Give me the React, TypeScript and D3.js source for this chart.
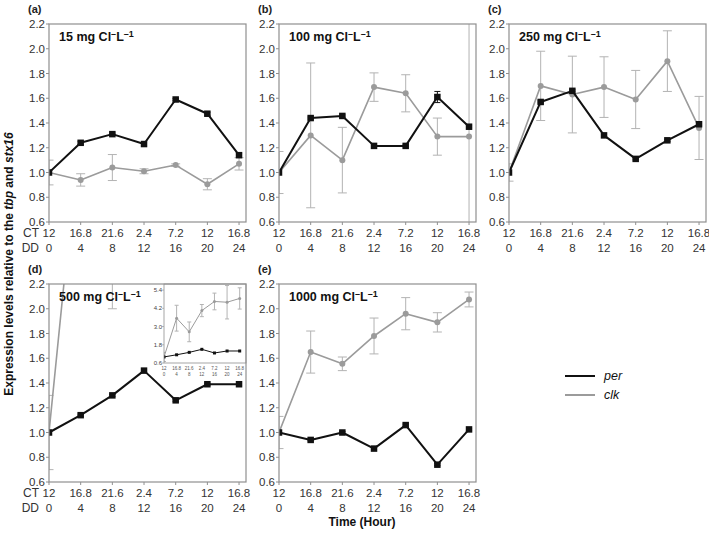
import React from "react";
import * as d3 from "d3";

const CT = ["12", "16.8", "21.6", "2.4", "7.2", "12", "16.8"];
const DD = ["0", "4", "8", "12", "16", "20", "24"];
const Y_TICKS = [0.6, 0.8, 1.0, 1.2, 1.4, 1.6, 1.8, 2.0, 2.2];
const INSET_Y_TICKS = [0.6, 1.8, 3.0, 4.2, 5.4];

const perA = [1.0, 1.24, 1.31, 1.23, 1.59, 1.475, 1.14];
const perAErr = [0.005, 0.012, 0.008, 0.012, 0.008, 0.012, 0.015];
const clkA = [1.0, 0.94, 1.04, 1.01, 1.06, 0.905, 1.07];
const clkAErr = [0.1, 0.05, 0.105, 0.02, 0.01, 0.045, 0.05];

const perB = [1.0, 1.44, 1.457, 1.215, 1.215, 1.61, 1.37];
const perBErr = [0.005, 0.008, 0.008, 0.008, 0.008, 0.045, 0.008];
const clkB = [1.0, 1.3, 1.1, 1.69, 1.64, 1.29, 1.29];
const clkBErr = [0.17, 0.585, 0.265, 0.115, 0.15, 0.15, 1.2];

const perC = [1.0, 1.57, 1.66, 1.3, 1.11, 1.26, 1.39];
const perCErr = [0.005, 0.008, 0.008, 0.008, 0.008, 0.008, 0.008];
const clkC = [1.0, 1.7, 1.63, 1.69, 1.59, 1.9, 1.36];
const clkCErr = [0.07, 0.28, 0.31, 0.245, 0.235, 0.245, 0.255];

const perD = [1.0, 1.14, 1.3, 1.5, 1.26, 1.39, 1.39];
const perDErr = [0.005, 0.008, 0.008, 0.008, 0.008, 0.008, 0.008];
const clkD = [1.0, 3.55, 2.65, 4.05, 4.65, 4.6, 4.85];
const clkDErr = [0.3, 0.85, 0.65, 0.4, 0.55, 1.1, 0.7];

const perE = [1.0, 0.94, 1.0, 0.87, 1.06, 0.74, 1.025];
const perEErr = [0.005, 0.008, 0.008, 0.008, 0.008, 0.008, 0.008];
const clkE = [1.0, 1.65, 1.555, 1.78, 1.96, 1.89, 2.075];
const clkEErr = [0.13, 0.17, 0.055, 0.145, 0.13, 0.078, 0.06];

const FONT = "'Liberation Sans', Arial, Helvetica, sans-serif";
const FRAME = "#8f8f8f";
const GRAY = "#9b9b9b";
const GRAY_ERR = "#b3b3b3";
const PW = 197;
const PH = 198;

type PanelProps = {
  id: string;
  x0: number;
  y0: number;
  letter: string;
  conc: string;
  per: number[];
  perErr: number[];
  clk: number[];
  clkErr: number[];
  rowLabels?: boolean;
  children?: React.ReactNode;
};

function Series({
  vals,
  errs,
  x,
  y,
  color,
  errColor,
  square,
  lw,
  ms,
  cap,
}: {
  vals: number[];
  errs: number[];
  x: (i: number) => number;
  y: d3.ScaleLinear<number, number>;
  color: string;
  errColor: string;
  square: boolean;
  lw: number;
  ms: number;
  cap: number;
}) {
  const line = d3
    .line<number>()
    .x((_, i) => x(i))
    .y((v) => y(v));
  return (
    <g>
      {vals.map((v, i) => (
        <g key={"e" + i} stroke={errColor} strokeWidth={1}>
          <line x1={x(i)} x2={x(i)} y1={y(v + errs[i])} y2={y(v - errs[i])} />
          <line x1={x(i) - cap} x2={x(i) + cap} y1={y(v + errs[i])} y2={y(v + errs[i])} />
          <line x1={x(i) - cap} x2={x(i) + cap} y1={y(v - errs[i])} y2={y(v - errs[i])} />
        </g>
      ))}
      <path d={line(vals) || ""} fill="none" stroke={color} strokeWidth={lw} strokeLinejoin="round" />
      {vals.map((v, i) =>
        square ? (
          <rect key={"m" + i} x={x(i) - ms / 2} y={y(v) - ms / 2} width={ms} height={ms} fill={color} />
        ) : (
          <circle key={"m" + i} cx={x(i)} cy={y(v)} r={ms / 2} fill={color} />
        )
      )}
    </g>
  );
}

function Panel(p: PanelProps) {
  const xs = d3.scaleLinear().domain([0, 6.22]).range([p.x0, p.x0 + PW]);
  const y = d3.scaleLinear().domain([0.6, 2.2]).range([p.y0 + PH, p.y0]);
  const x = (i: number) => xs(i);
  const bottom = p.y0 + PH;
  return (
    <g fontFamily={FONT}>
      <defs>
        <clipPath id={"clip" + p.id}>
          <rect x={p.x0} y={p.y0} width={PW} height={PH} />
        </clipPath>
      </defs>
      <text x={p.x0 - 21} y={p.y0 - 11} fontSize={11} fontWeight="bold" fill="#222">
        {p.letter}
      </text>
      {Y_TICKS.map((t) => (
        <g key={t}>
          <line x1={p.x0 - 3} x2={p.x0} y1={y(t)} y2={y(t)} stroke={FRAME} />
          <text x={p.x0 - 4} y={y(t)} dy="0.35em" textAnchor="end" fontSize={11.5} fill="#333">
            {t.toFixed(1)}
          </text>
        </g>
      ))}
      {CT.map((c, i) => (
        <g key={i}>
          <line x1={x(i)} x2={x(i)} y1={bottom} y2={bottom + 3} stroke={FRAME} />
          <text x={x(i)} y={bottom + 11} dy="0.35em" textAnchor="middle" fontSize={11.5} fill="#333">
            {c}
          </text>
          <text x={x(i)} y={bottom + 26} dy="0.35em" textAnchor="middle" fontSize={11.5} fill="#333">
            {DD[i]}
          </text>
        </g>
      ))}
      {p.rowLabels && (
        <g fontSize={12} fill="#333">
          <text x={p.x0 - 10} y={bottom + 11} dy="0.35em" textAnchor="end">
            CT
          </text>
          <text x={p.x0 - 10} y={bottom + 26} dy="0.35em" textAnchor="end">
            DD
          </text>
        </g>
      )}
      <g clipPath={`url(#clip${p.id})`}>
        <Series vals={p.clk} errs={p.clkErr} x={x} y={y} color={GRAY} errColor={GRAY_ERR} square={false} lw={1.6} ms={6} cap={4.5} />
        <Series vals={p.per} errs={p.perErr} x={x} y={y} color="#111" errColor="#111" square={true} lw={2} ms={6.5} cap={3} />
      </g>
      <text x={p.x0 + 10} y={p.y0 + 17} fontSize={12.5} fontWeight="bold" fill="#111">
        {p.conc} mg Cl
        <tspan dy={-4} fontSize={9}>
          –
        </tspan>
        <tspan dy={4}>L</tspan>
        <tspan dy={-4} fontSize={9}>
          –1
        </tspan>
      </text>
      {p.children}
      <rect x={p.x0} y={p.y0} width={PW} height={PH} fill="none" stroke={FRAME} strokeWidth={1.2} />
    </g>
  );
}

function Inset({ x0, y0 }: { x0: number; y0: number }) {
  const w = 82;
  const h = 79;
  const xs = d3.scaleLinear().domain([0, 6.5]).range([x0, x0 + w]);
  const y = d3.scaleLinear().domain([0.6, 5.8]).range([y0 + h, y0]);
  const x = (i: number) => xs(i);
  return (
    <g fontFamily={FONT}>
      <defs>
        <clipPath id="clipInset">
          <rect x={x0} y={y0} width={w} height={h} />
        </clipPath>
      </defs>
      <rect x={x0} y={y0} width={w} height={h} fill="#fff" />
      {INSET_Y_TICKS.map((t) => (
        <g key={t}>
          <line x1={x0 - 2} x2={x0} y1={y(t)} y2={y(t)} stroke={FRAME} strokeWidth={0.6} />
          <text x={x0 - 2} y={y(t)} dy="0.35em" textAnchor="end" fontSize={6} fill="#444">
            {t.toFixed(1)}
          </text>
        </g>
      ))}
      {CT.map((c, i) => (
        <g key={i} fontSize={4.5} fill="#555" textAnchor="middle">
          <text x={x(i)} y={y0 + h + 5} dy="0.35em">
            {c}
          </text>
          <text x={x(i)} y={y0 + h + 11} dy="0.35em">
            {DD[i]}
          </text>
        </g>
      ))}
      <g clipPath="url(#clipInset)">
        <Series vals={clkD} errs={clkDErr} x={x} y={y} color={GRAY} errColor={GRAY_ERR} square={false} lw={1} ms={3} cap={2} />
        <Series vals={perD} errs={perDErr} x={x} y={y} color="#111" errColor="#111" square={true} lw={1} ms={3} cap={1} />
      </g>
      <rect x={x0} y={y0} width={w} height={h} fill="none" stroke={FRAME} strokeWidth={0.8} />
    </g>
  );
}

export default function App() {
  return (
    <svg width={709} height={537} style={{ position: "absolute", left: 0, top: 0 }}>
      <rect width={709} height={537} fill="#fff" />
      <Panel id="a" x0={49} y0={24} letter="(a)" conc="15" per={perA} perErr={perAErr} clk={clkA} clkErr={clkAErr} rowLabels />
      <Panel id="b" x0={279} y0={24} letter="(b)" conc="100" per={perB} perErr={perBErr} clk={clkB} clkErr={clkBErr} />
      <Panel id="c" x0={509} y0={24} letter="(c)" conc="250" per={perC} perErr={perCErr} clk={clkC} clkErr={clkCErr} />
      <Panel id="d" x0={49} y0={284} letter="(d)" conc="500" per={perD} perErr={perDErr} clk={clkD} clkErr={clkDErr} rowLabels>
        <Inset x0={164} y0={284} />
      </Panel>
      <Panel id="e" x0={279} y0={284} letter="(e)" conc="1000" per={perE} perErr={perEErr} clk={clkE} clkErr={clkEErr} />
      <g fontFamily={FONT}>
        <text
          transform="translate(13,264) rotate(-90)"
          textAnchor="middle"
          fontSize={12}
          fontWeight="bold"
          fill="#111"
        >
          Expression levels relative to the <tspan fontStyle="italic">tbp</tspan> and{" "}
          <tspan fontStyle="italic">stx16</tspan>
        </text>
        <text x={362} y={526} textAnchor="middle" fontSize={12} fontWeight="bold" fill="#111">
          Time (Hour)
        </text>
        <line x1={565} x2={595} y1={376} y2={376} stroke="#111" strokeWidth={2} />
        <line x1={565} x2={595} y1={395} y2={395} stroke={GRAY} strokeWidth={2} />
        <text x={604} y={376} dy="0.35em" fontSize={12.5} fontStyle="italic" fill="#111">
          per
        </text>
        <text x={604} y={395} dy="0.35em" fontSize={12.5} fontStyle="italic" fill="#111">
          clk
        </text>
      </g>
    </svg>
  );
}
